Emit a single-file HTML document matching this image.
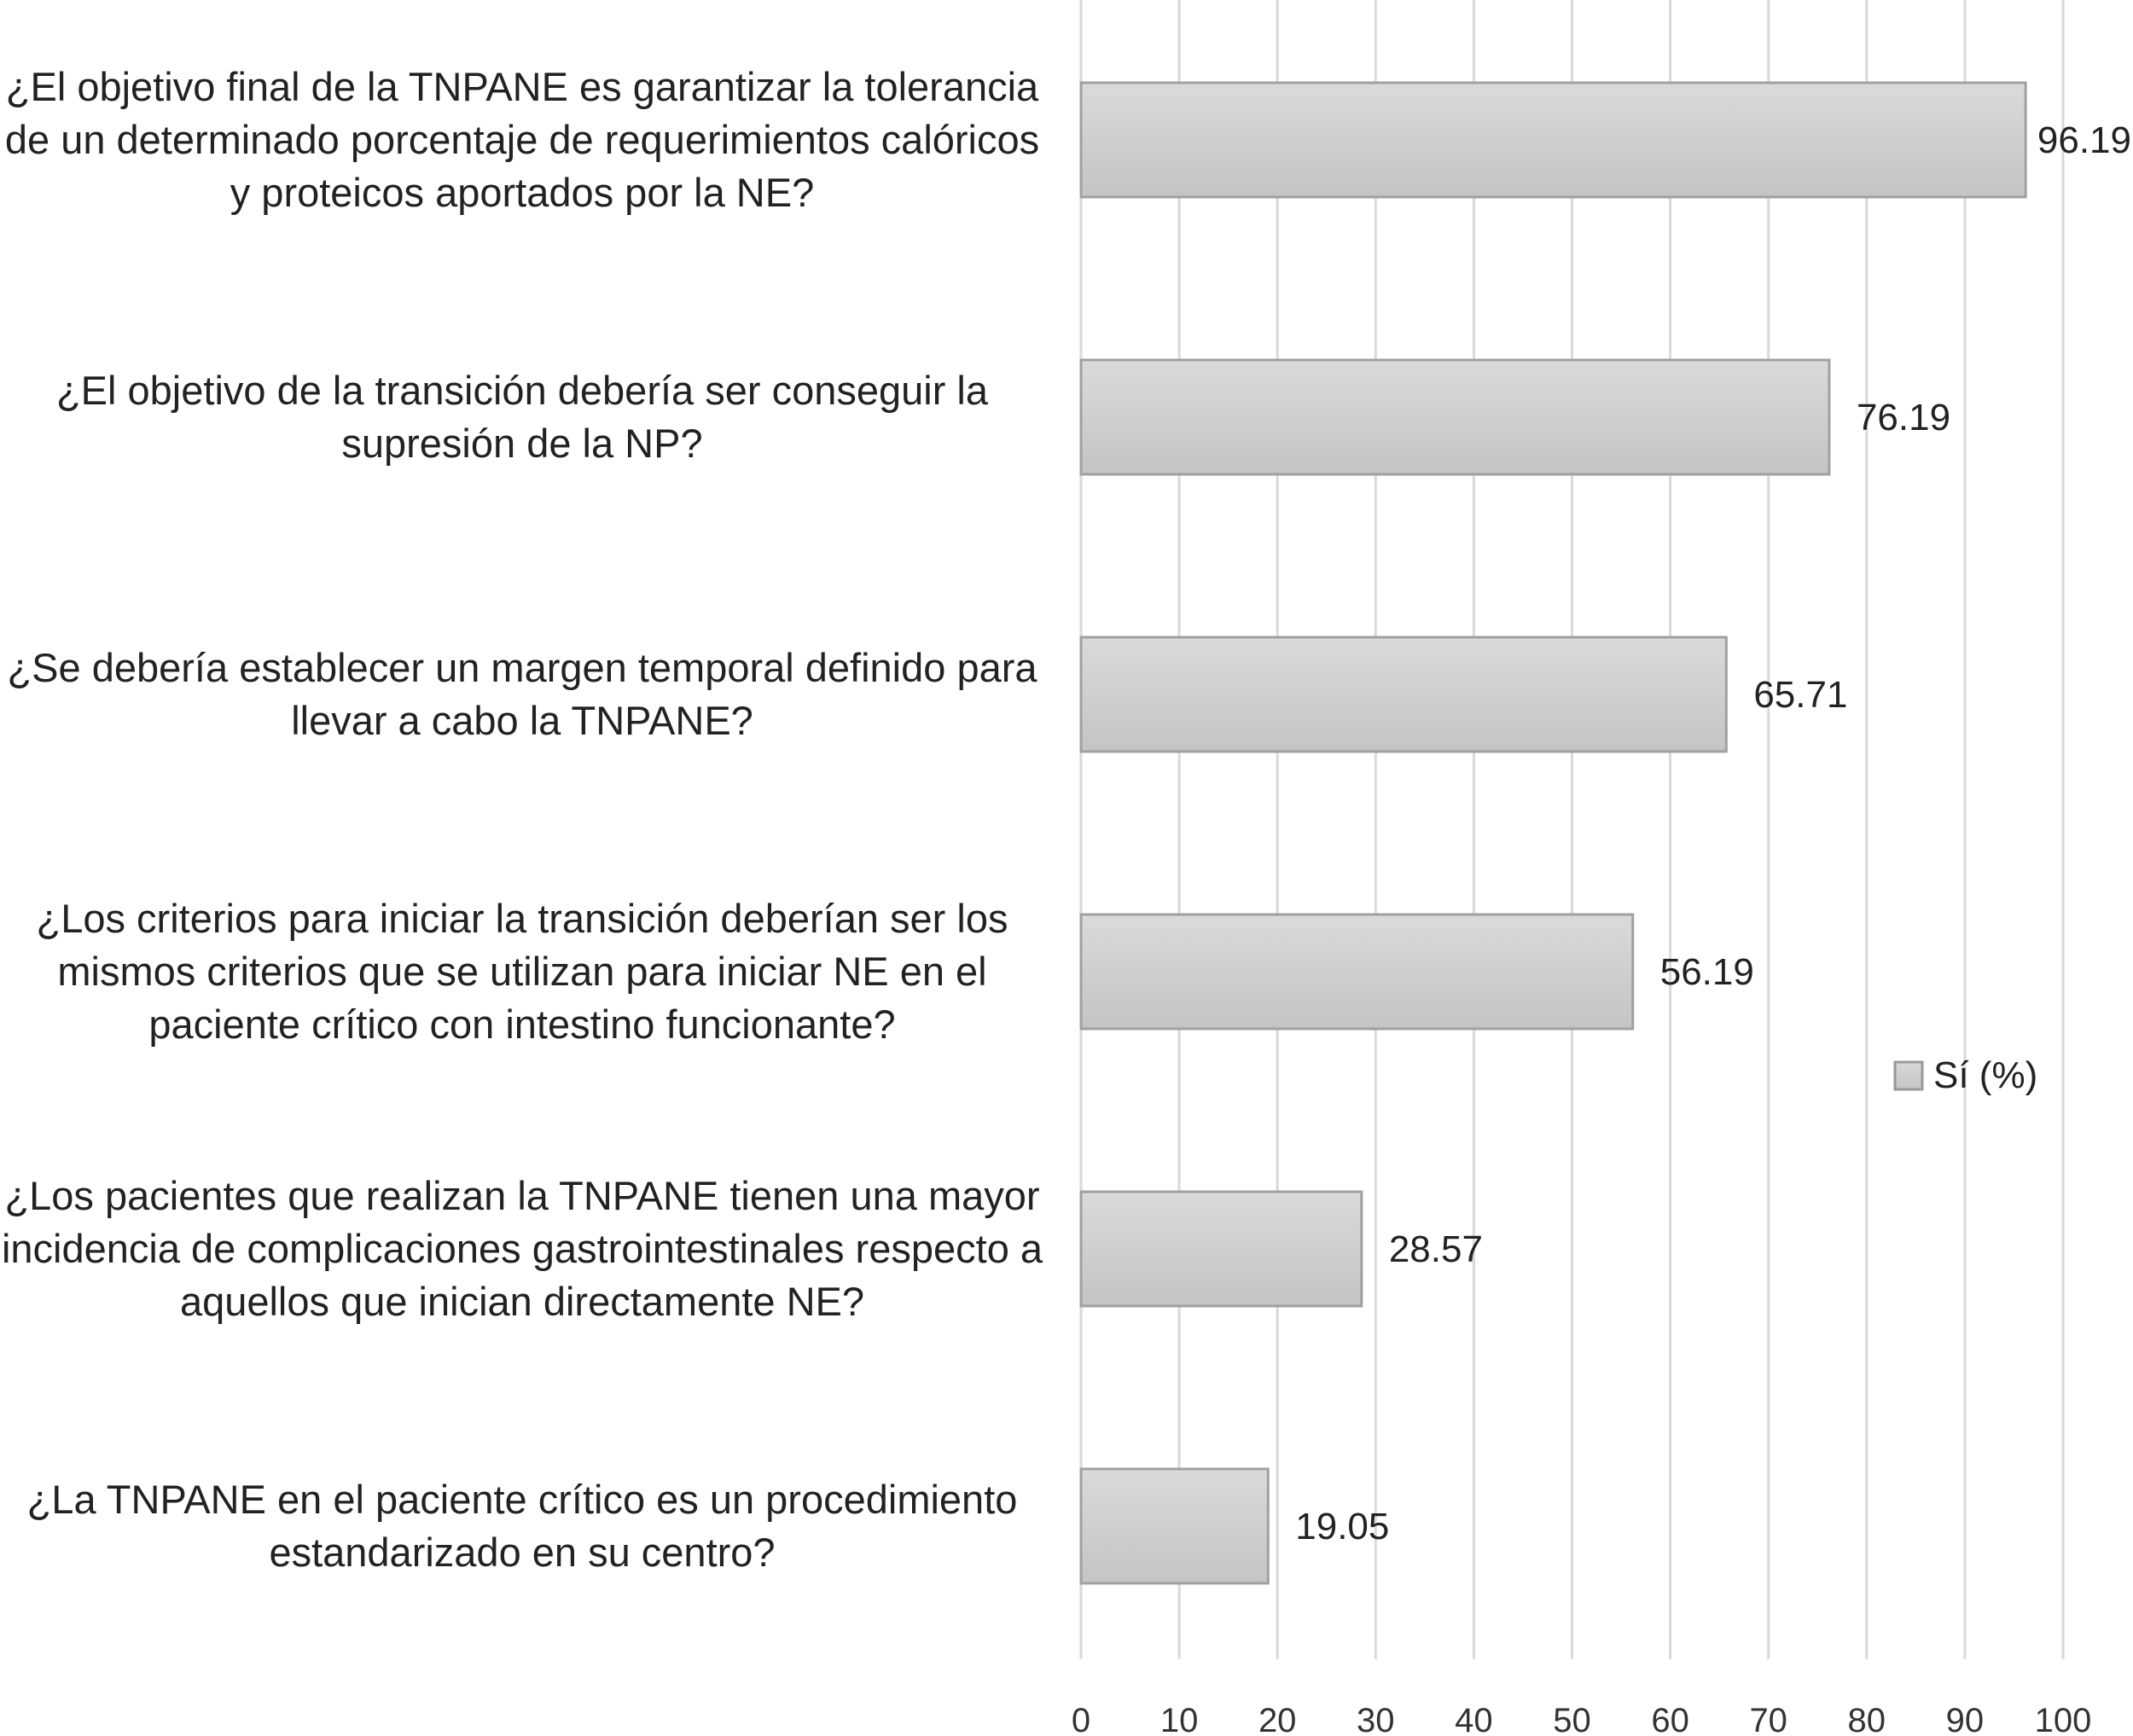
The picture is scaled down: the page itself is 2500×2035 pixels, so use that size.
<!DOCTYPE html>
<html><head><meta charset="utf-8"><style>
html,body{margin:0;padding:0;background:#fff;}
svg{display:block;font-family:"Liberation Sans","DejaVu Sans",sans-serif;}
</style></head><body>
<svg id="chart" width="2500" height="2035" viewBox="0 0 2500 2035">
<defs><linearGradient id="g" x1="0" y1="0" x2="0" y2="1"><stop offset="0" stop-color="#dadada"/><stop offset="1" stop-color="#c4c4c4"/></linearGradient></defs>
<g id="grid"></g><g id="bars"></g><g id="labels"></g><g id="ticks"></g>
<g>
<rect x="2221" y="1245" width="32" height="32" fill="url(#g)" stroke="#999" stroke-width="3"/>
<text x="2266" y="1275" font-size="44" fill="#222">Sí (%)</text>
</g>
</svg>
<script>
const categories=[
["¿El objetivo final de la TNPANE es garantizar la tolerancia","de un determinado porcentaje de requerimientos calóricos","y proteicos aportados por la NE?"],
["¿El objetivo de la transición debería ser conseguir la","supresión de la NP?"],
["¿Se debería establecer un margen temporal definido para","llevar a cabo la TNPANE?"],
["¿Los criterios para iniciar la transición deberían ser los","mismos criterios que se utilizan para iniciar NE en el","paciente crítico con intestino funcionante?"],
["¿Los pacientes que realizan la TNPANE tienen una mayor","incidencia de complicaciones gastrointestinales respecto a","aquellos que inician directamente NE?"],
["¿La TNPANE en el paciente crítico es un procedimiento","estandarizado en su centro?"]];
const values=[96.19,76.19,65.71,56.19,28.57,19.05];
const valueLabels=["96.19","76.19","65.71","56.19","28.57","19.05"];
const ticks=[0,10,20,30,40,50,60,70,80,90,100];
const NS="http://www.w3.org/2000/svg";
const x0=1267,x1=2418,plotTop=0,plotBottom=1945,bandTop=97,band=325,barH=134;
const xs=v=>x0+(x1-x0)*v/100;
function mk(t,a,p){const e=document.createElementNS(NS,t);for(const k in a)e.setAttribute(k,a[k]);p.appendChild(e);return e;}
const G=document.getElementById('grid'),B=document.getElementById('bars'),L=document.getElementById('labels'),T=document.getElementById('ticks');
ticks.forEach(t=>{
 const l=mk('line',{x1:xs(t),x2:xs(t),y1:plotTop,y2:plotBottom,stroke:'#d9d9d9','stroke-width':3},G);
 
 
 const tx=mk('text',{x:xs(t),y:2030,'font-size':40,'text-anchor':'middle',fill:'#333'},T);
 tx.textContent=t;
 
 
});
values.forEach((v,i)=>{
 const y=bandTop+i*band;
 const r=mk('rect',{x:x0,y:y,width:xs(v)-x0,height:barH,fill:'url(#g)',stroke:'#a0a0a0','stroke-width':3},B);
 
 
 const vt=mk('text',{x:xs(v)+32,y:y+barH/2+15,'font-size':44,fill:'#222'},B);
 vt.textContent=valueLabels[i];
 
 
 const w=vt.getComputedTextLength();
 if(xs(v)+32+w>2498) vt.setAttribute('x',2498-w);
 const lines=categories[i],lh=62,cy=y+barH/2;
 const g=mk('text',{'font-size':47,'text-anchor':'middle',fill:'#222'},L);
 
 
 lines.forEach((s,j)=>{const ts=mk('tspan',{x:612,y:cy+(j-(lines.length-1)/2)*lh+16},g);ts.textContent=s;});
});
</script>
</body></html>
